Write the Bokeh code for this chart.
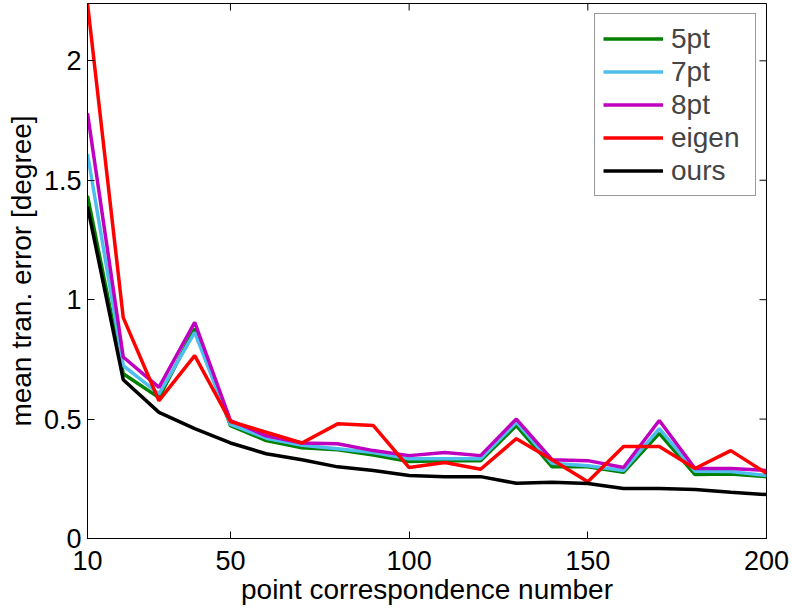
import math
from bokeh.plotting import figure
from bokeh.models import Range1d, FixedTicker, Legend, LegendItem
from bokeh.embed import file_html
from bokeh.resources import INLINE

x = [10, 20, 30, 40, 50, 60, 70, 80, 90, 100, 110, 120, 130, 140, 150, 160, 170, 180, 190, 200]
pt5 = [1.435, 0.69, 0.59, 0.878, 0.473, 0.41, 0.38, 0.372, 0.35, 0.322, 0.326, 0.326, 0.473, 0.30, 0.30, 0.277, 0.44, 0.268, 0.27, 0.259]
pt7 = [1.61, 0.724, 0.606, 0.863, 0.478, 0.42, 0.39, 0.376, 0.36, 0.334, 0.334, 0.334, 0.487, 0.315, 0.305, 0.285, 0.46, 0.282, 0.28, 0.264]
pt8 = [1.78, 0.76, 0.633, 0.905, 0.494, 0.43, 0.40, 0.397, 0.368, 0.347, 0.36, 0.347, 0.50, 0.33, 0.326, 0.297, 0.494, 0.293, 0.293, 0.285]
eigen = [2.24, 0.925, 0.577, 0.766, 0.49, 0.445, 0.40, 0.48, 0.473, 0.297, 0.318, 0.29, 0.418, 0.33, 0.238, 0.385, 0.385, 0.293, 0.368, 0.273]
ours = [1.39, 0.665, 0.528, 0.46, 0.40, 0.355, 0.33, 0.30, 0.285, 0.264, 0.259, 0.259, 0.231, 0.236, 0.23, 0.209, 0.209, 0.205, 0.194, 0.184]

series_names = ["5pt", "7pt", "8pt", "eigen", "ours"]
series_values = [pt5, pt7, pt8, eigen, ours]
series_colors = ["#008000", "#4DBEEE", "#BF00BF", "#FF0000", "#000000"]

x_ticks = [10, 50, 100, 150, 200]
y_ticks = [0, 0.5, 1, 1.5, 2]
x_lim = (10, 200)
y_lim = (0, 2.24)

FONT = "Liberation Sans"

p = figure(width=792, height=611, output_backend="svg", toolbar_location=None,
           x_range=Range1d(*x_lim), y_range=Range1d(*y_lim),
           min_border_left=87, min_border_right=26, min_border_top=3, min_border_bottom=73,
           background_fill_color="white", border_fill_color="white")
p.xgrid.visible = False
p.ygrid.visible = False
p.outline_line_color = "black"
p.outline_line_width = 1

renderers = []
for name, vals, col in zip(series_names, series_values, series_colors):
    r = p.line(x, vals, line_color=col, line_width=3.5)
    renderers.append((name, r))

# inward ticks on the top and right edges of the box
p.ray(x=x_ticks, y=[y_lim[1]] * len(x_ticks), length=7, length_units="screen",
      angle=-math.pi / 2, line_color="black", line_width=1)
p.ray(x=[x_lim[1]] * len(y_ticks), y=y_ticks, length=7, length_units="screen",
      angle=math.pi, line_color="black", line_width=1)

def style_axis(ax, ticks):
    ax.ticker = FixedTicker(ticks=ticks)
    ax.major_tick_in = 7
    ax.major_tick_out = 0
    ax.minor_tick_in = 0
    ax.minor_tick_out = 0
    ax.axis_line_color = "black"
    ax.major_tick_line_color = "black"
    ax.major_label_text_font = FONT
    ax.major_label_text_color = "black"
    ax.major_label_text_font_size = "27px"
    ax.axis_label_text_font = FONT
    ax.axis_label_text_font_size = "28px"
    ax.axis_label_text_font_style = "normal"
    ax.axis_label_text_color = "black"

xa = p.xaxis[0]
ya = p.yaxis[0]
style_axis(xa, x_ticks)
style_axis(ya, y_ticks)
xa.axis_label = "point correspondence number"
ya.axis_label = "mean tran. error [degree]"
xa.major_label_standoff = 12
xa.axis_label_standoff = 1
ya.major_label_standoff = 6
ya.axis_label_standoff = 4

legend = Legend(items=[LegendItem(label=n, renderers=[r]) for n, r in renderers],
                location="top_right")
legend.label_text_font = FONT
legend.label_text_font_size = "28px"
legend.glyph_width = 60
legend.glyph_height = 33
legend.label_height = 33
legend.label_width = 76
legend.label_standoff = 8
legend.spacing = 0
legend.padding = 8
legend.margin = 10
legend.border_line_color = "#333333"
legend.border_line_width = 1
legend.background_fill_color = "white"
legend.background_fill_alpha = 1
p.add_layout(legend)

open("out.html", "w").write(file_html(p, INLINE))
